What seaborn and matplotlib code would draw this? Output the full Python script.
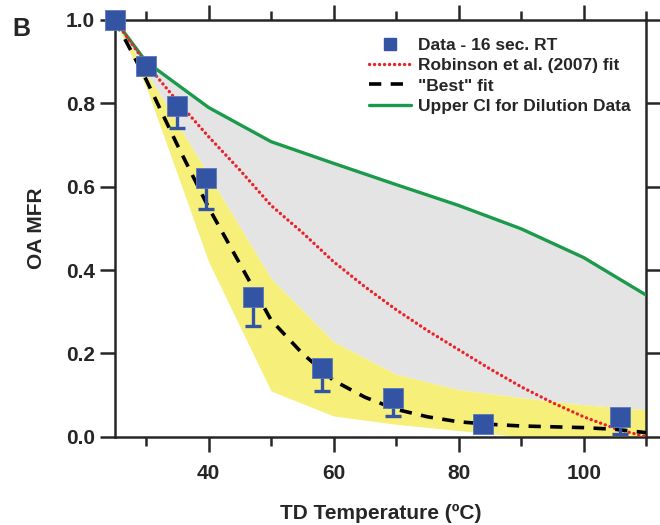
import numpy as np
import pandas as pd
import matplotlib
matplotlib.use("Agg")
import matplotlib.pyplot as plt
import seaborn as sns
from matplotlib.lines import Line2D

# measured points (16 s residence time)
data_t = [25, 30, 35, 39.6, 47.1, 58.1, 69.5, 83.9, 105.8]
data_mfr = [1.0, 0.89, 0.794, 0.621, 0.336, 0.165, 0.094, 0.031, 0.048]
data_err_low = [0.0, 0.0, 0.053, 0.074, 0.07, 0.055, 0.044, 0.0, 0.041]

# band edges / upper CI, 10 degree steps
band_t = [25, 30, 40, 50, 60, 70, 80, 90, 100, 110]
yellow_low = [1.0, 0.84, 0.42, 0.11, 0.05, 0.03, 0.015, 0.0, 0.0, 0.0]
yellow_high = [1.0, 0.876, 0.628, 0.38, 0.228, 0.15, 0.113, 0.094, 0.077, 0.065]
upper_ci = [1.0, 0.90, 0.79, 0.708, 0.656, 0.605, 0.555, 0.499, 0.43, 0.34]

# fits, 5 degree steps
fit_t = [25, 30, 35, 40, 45, 50, 55, 60, 65, 70, 75, 80, 85, 90, 95, 100, 105, 110]
robinson = [1.0, 0.895, 0.805, 0.72, 0.64, 0.555, 0.49, 0.42, 0.36, 0.305, 0.255,
            0.209, 0.163, 0.12, 0.082, 0.048, 0.02, 0.0]
best_fit = [1.0, 0.857, 0.70, 0.55, 0.415, 0.28, 0.20, 0.135, 0.095, 0.066, 0.048,
            0.036, 0.03, 0.026, 0.024, 0.022, 0.018, 0.01]

sns.set_style("ticks")
plt.rcParams['font.family'] = ['Liberation Sans', 'DejaVu Sans']
plt.rcParams['font.weight'] = 'bold'

blue = '#3353a3'
red = '#e8242a'
green = '#1a9a4a'
yellow = '#f6ef7a'
grey = '#e4e4e4'
dots = (0, (0.05, 1.45))
dashes = (0, (3.4, 2.6))

fig = plt.figure(figsize=(6.6, 5.25), dpi=100)
ax = fig.add_axes([0.174, 0.168, 0.805, 0.794])

# shaded regions
ax.fill_between(band_t, yellow_high, upper_ci, color=grey, lw=0, zorder=1)
ax.fill_between(band_t, yellow_low, yellow_high, color=yellow, lw=0, zorder=1)

fits = pd.DataFrame({'t': fit_t, 'robinson': robinson, 'best': best_fit})
ci = pd.DataFrame({'t': band_t, 'upper': upper_ci})

sns.lineplot(data=ci, x='t', y='upper', ax=ax, color=green, lw=2.4, zorder=3)
sns.lineplot(data=fits, x='t', y='robinson', ax=ax, color=red, lw=2.4,
             linestyle=dots, dash_capstyle='round', zorder=3)
sns.lineplot(data=fits, x='t', y='best', ax=ax, color='black', lw=2.6,
             linestyle=dashes, zorder=4)

# lower-only error bars
err = np.array([data_err_low, np.zeros(len(data_err_low))])
ax.errorbar(data_t, data_mfr, yerr=err, fmt='none', ecolor=blue, elinewidth=2.4,
            capsize=6, capthick=2.4, zorder=5, clip_on=False)
pts = pd.DataFrame({'t': data_t, 'mfr': data_mfr})
sns.scatterplot(data=pts, x='t', y='mfr', ax=ax, marker='s', s=190, color=blue,
                edgecolor='#5a78c0', linewidth=0.6, zorder=6, clip_on=False)

ax.set_xlim(25, 110)
ax.set_ylim(0, 1.0)
ax.set_xticks([40, 60, 80, 100])
ax.set_xticks([30, 50, 70, 90, 110], minor=True)
ax.set_yticks([0.0, 0.2, 0.4, 0.6, 0.8, 1.0])
ax.set_yticklabels(['0.0', '0.2', '0.4', '0.6', '0.8', '1.0'])
ax.tick_params(axis='both', which='major', direction='out', length=10.5, width=1.8,
               labelsize=15, top=True, right=True, pad=4)
ax.tick_params(axis='x', which='major', pad=9)
ax.tick_params(axis='x', which='minor', direction='out', length=6.5, width=1.8,
               top=True)
for s in ax.spines.values():
    s.set_linewidth(1.8)
    s.set_visible(True)
for lab in ax.get_xticklabels() + ax.get_yticklabels():
    lab.set_fontweight('bold')

ax.set_xlabel('TD Temperature (ºC)', fontsize=15, fontweight='bold', labelpad=15)
ax.set_ylabel('OA MFR', fontsize=15, fontweight='bold', labelpad=14)
fig.text(0.018, 0.968, 'B', fontsize=18, fontweight='bold', va='top')

handles = [
    Line2D([], [], marker='s', color=blue, ls='none', markersize=9),
    Line2D([], [], color=red, lw=2.4, linestyle=dots, dash_capstyle='round'),
    Line2D([], [], color='black', lw=2.6, linestyle=dashes),
    Line2D([], [], color=green, lw=2.4),
]
labels = ['Data - 16 sec. RT', 'Robinson et al. (2007) fit', '"Best" fit',
          'Upper CI for Dilution Data']
ax.legend(handles, labels, loc='upper right', bbox_to_anchor=(1.0, 0.995),
          frameon=False, prop={'size': 12.5, 'weight': 'bold'},
          handlelength=2.4, handletextpad=0.4, labelspacing=0.3)

fig.savefig('out.png', dpi=100)
